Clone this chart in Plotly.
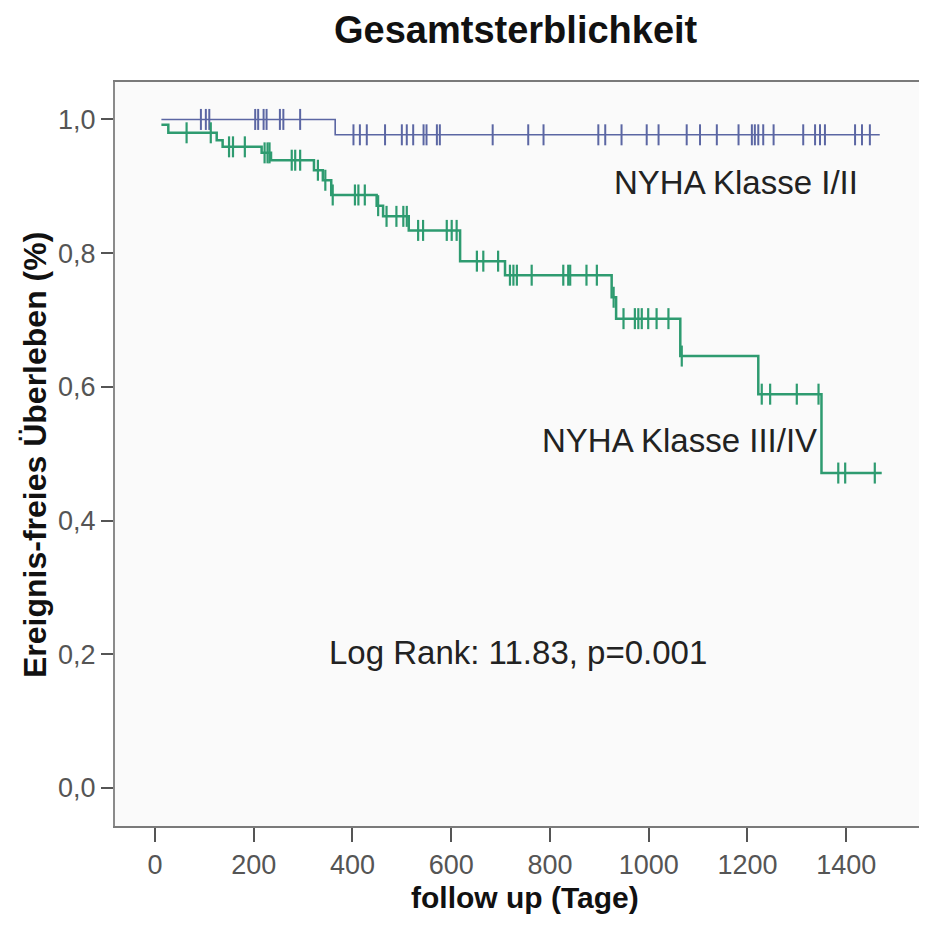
import plotly.graph_objects as go
import numpy as np

# ---- data ----
blue_event_days = [13, 365, 1468]
blue_surv = [1.0, 0.977, 0.977]
blue_censor_days = [93, 103, 110, 203, 209, 220, 226, 253, 260, 294, 402, 415, 429, 466,
                    500, 510, 523, 544, 550, 571, 577, 684, 756, 787, 898, 912, 945, 996,
                    1020, 1077, 1104, 1138, 1182, 1209, 1215, 1222, 1232, 1253, 1313, 1337,
                    1347, 1357, 1418, 1432, 1448]

green_event_days = [13, 27, 125, 137, 216, 235, 322, 340, 357, 449, 462, 514, 618, 709,
                    925, 934, 1064, 1222, 1350, 1472]
green_surv = [0.992, 0.980, 0.969, 0.959, 0.950, 0.939, 0.924, 0.909, 0.887, 0.871, 0.855,
              0.834, 0.788, 0.767, 0.734, 0.702, 0.646, 0.589, 0.471, 0.471]
green_censor_days = [64, 113, 150, 158, 182, 222, 228, 232, 277, 284, 294, 330, 345, 360,
                     405, 412, 425, 452, 469, 489, 503, 510, 533, 543, 591, 601, 611, 652,
                     665, 695, 719, 726, 733, 763, 827, 837, 841, 874, 895, 929, 949, 972,
                     979, 986, 999, 1016, 1040, 1067, 1229, 1246, 1300, 1344, 1384, 1398, 1458]

x_tickvals = [0, 200, 400, 600, 800, 1000, 1200, 1400]
x_ticktext = ["0", "200", "400", "600", "800", "1000", "1200", "1400"]
y_tickvals = [0.0, 0.2, 0.4, 0.6, 0.8, 1.0]
y_ticktext = ["0,0", "0,2", "0,4", "0,6", "0,8", "1,0"]

label_upper = "NYHA Klasse I/II"
label_lower = "NYHA Klasse III/IV"
stat_text = "Log Rank: 11.83, p=0.001"
title_text = "Gesamtsterblichkeit"
x_title = "follow up (Tage)"
y_title = "Ereignis-freies Überleben (%)"

BLUE = "#5b66a3"
GREEN = "#2e9b70"


def surv_at(days, ev_days, ev_surv):
    idx = np.searchsorted(ev_days, days, side="right") - 1
    return [ev_surv[max(i, 0)] for i in idx]


fig = go.Figure()

fig.add_trace(go.Scatter(x=blue_event_days, y=blue_surv, mode="lines",
                         line=dict(color=BLUE, width=1.6, shape="hv"), showlegend=False))
fig.add_trace(go.Scatter(x=blue_censor_days,
                         y=surv_at(blue_censor_days, blue_event_days, blue_surv),
                         mode="markers",
                         marker=dict(symbol="line-ns", size=15,
                                     line=dict(color=BLUE, width=2)),
                         showlegend=False))

fig.add_trace(go.Scatter(x=green_event_days, y=green_surv, mode="lines",
                         line=dict(color=GREEN, width=2.5, shape="hv"), showlegend=False))
fig.add_trace(go.Scatter(x=green_censor_days,
                         y=surv_at(green_censor_days, green_event_days, green_surv),
                         mode="markers",
                         marker=dict(symbol="line-ns", size=15,
                                     line=dict(color=GREEN, width=2.2)),
                         showlegend=False))

tick_font = dict(family="Liberation Sans Narrow, Arial Narrow, Liberation Sans, Arial",
                 size=27, color="#555555")
txt_font = dict(family="Liberation Sans, Arial", size=33, color="#222222")

# figure is drawn inside the page's 8px body margin
W, H = 911, 910
L, T, B = 107, 74, 92
PW = W - L
PH = H - T - B

fig.update_layout(
    width=W, height=H,
    margin=dict(l=L, r=0, t=T, b=B),
    paper_bgcolor="white",
    plot_bgcolor="#fafafa",
    showlegend=False,
    xaxis=dict(range=[-81, -81 + PW / 0.4937], tickvals=x_tickvals, ticktext=x_ticktext,
               showgrid=False, zeroline=False, showline=True, linecolor="#7a7a7a",
               linewidth=2, mirror=True, ticks="outside", ticklen=14, tickwidth=2,
               tickcolor="#555555", tickfont=tick_font),
    yaxis=dict(range=[-0.057, 1.056], tickvals=y_tickvals, ticktext=y_ticktext,
               showgrid=False, zeroline=False, showline=True, linecolor="#8a8a8a",
               linewidth=2, ticks="outside", ticklen=12, tickwidth=2,
               tickcolor="#555555", tickfont=tick_font),
    annotations=[
        dict(text="<b>" + title_text + "</b>", xref="paper", yref="paper",
             x=(508 - L) / PW, y=1 + (T - 22) / PH, xanchor="center", yanchor="middle",
             showarrow=False, font=dict(family="Liberation Sans, Arial", size=38, color="#111111")),
        dict(text="<b>" + x_title + "</b>", xref="paper", yref="paper",
             x=(517 - L) / PW, y=-(890 - (T + PH)) / PH, xanchor="center", yanchor="middle",
             showarrow=False, font=dict(family="Liberation Sans, Arial", size=30, color="#111111")),
        dict(text="<b>" + y_title + "</b>", xref="paper", yref="paper", textangle=-90,
             x=(27 - L) / PW, y=((T + PH) - 447) / PH, xanchor="center", yanchor="middle",
             showarrow=False, font=dict(family="Liberation Sans, Arial", size=32, color="#111111")),
        dict(text=label_upper, x=925, y=0.906, xanchor="left", yanchor="middle",
             showarrow=False, font=txt_font),
        dict(text=label_lower, x=780, y=0.520, xanchor="left", yanchor="middle",
             showarrow=False, font=txt_font),
        dict(text=stat_text, x=348, y=0.203, xanchor="left", yanchor="middle",
             showarrow=False, font=txt_font),
    ],
)

fig.write_html("out.html")
